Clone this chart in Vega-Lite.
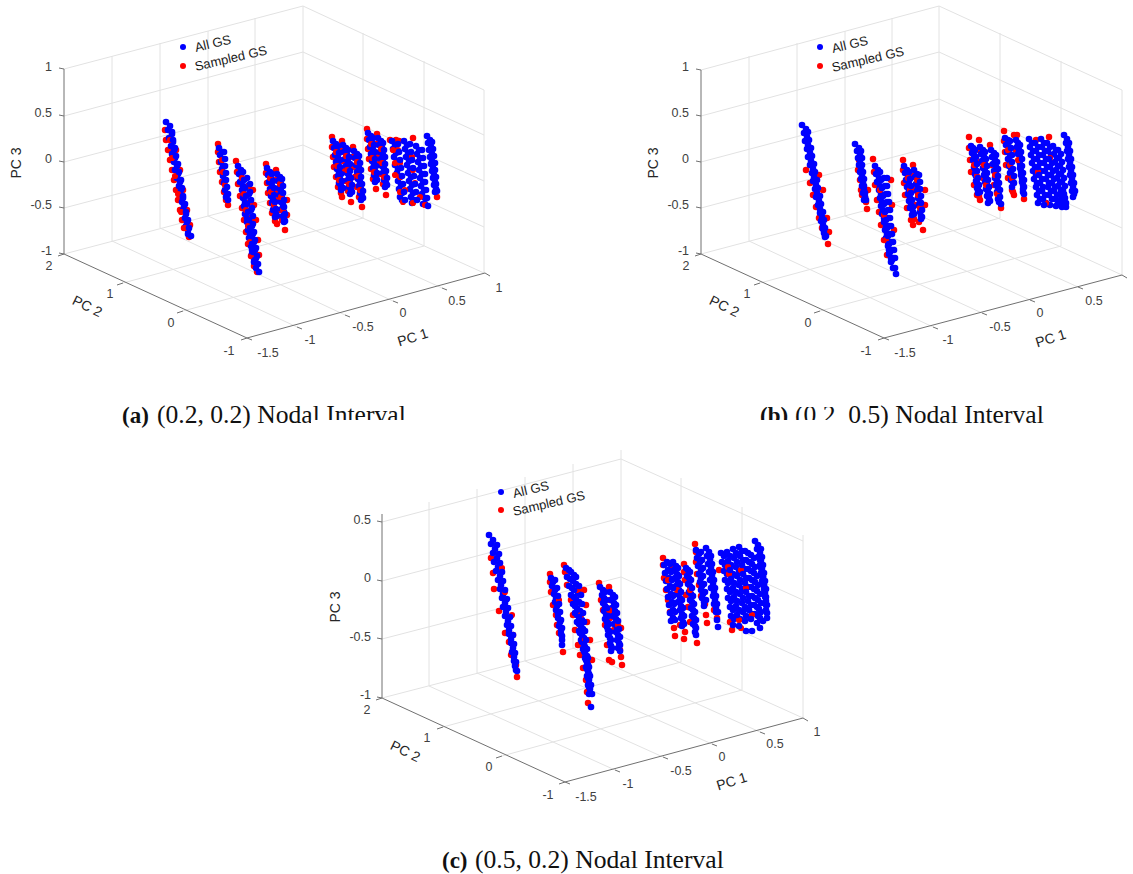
{"$schema":"https://vega.github.io/schema/vega-lite/v6.json","width":1133,"height":874,"padding":0,"autosize":"none","background":"white","config":{"view":{"stroke":null}},
"datasets":{
"grid":[
{"x":123,"y":283,"x2":363,"y2":218},{"x":183,"y":311,"x2":424,"y2":246},{"x":297,"y":327,"x2":112,"y2":241},{"x":345,"y":315,"x2":160,"y2":228},{"x":393,"y":301,"x2":208,"y2":216},{"x":442,"y":288,"x2":255,"y2":203},{"x":64,"y":254,"x2":303,"y2":191},{"x":303,"y":191,"x2":484,"y2":273},
{"x":112,"y":241,"x2":112,"y2":56},{"x":160,"y":228,"x2":160,"y2":43},{"x":208,"y":216,"x2":208,"y2":31},{"x":255,"y":203,"x2":255,"y2":18},{"x":303,"y":191,"x2":303,"y2":6},{"x":363,"y":218,"x2":363,"y2":33},{"x":424,"y":246,"x2":424,"y2":61},{"x":484,"y":273,"x2":484,"y2":90},
{"x":64,"y":208,"x2":303,"y2":145},{"x":303,"y":145,"x2":484,"y2":227},{"x":64,"y":162,"x2":303,"y2":99},{"x":303,"y":99,"x2":484,"y2":181},{"x":64,"y":116,"x2":303,"y2":52},{"x":303,"y":52,"x2":484,"y2":135},{"x":64,"y":69,"x2":303,"y2":6},{"x":303,"y":6,"x2":484,"y2":90},
{"x":760,"y":283,"x2":1000,"y2":218},{"x":820,"y":311,"x2":1061,"y2":246},{"x":933,"y":327,"x2":749,"y2":241},{"x":982,"y":313,"x2":797,"y2":228},{"x":1030,"y":300,"x2":845,"y2":216},{"x":1078,"y":287,"x2":892,"y2":203},{"x":701,"y":254,"x2":939,"y2":191},{"x":939,"y":191,"x2":1122,"y2":275},
{"x":749,"y":241,"x2":749,"y2":56},{"x":797,"y":228,"x2":797,"y2":43},{"x":845,"y":216,"x2":845,"y2":31},{"x":892,"y":203,"x2":892,"y2":18},{"x":939,"y":191,"x2":939,"y2":6},{"x":1000,"y":218,"x2":1000,"y2":33},{"x":1061,"y":246,"x2":1061,"y2":61},{"x":1122,"y":275,"x2":1122,"y2":90},
{"x":701,"y":208,"x2":939,"y2":145},{"x":939,"y":145,"x2":1122,"y2":228},{"x":701,"y":162,"x2":939,"y2":99},{"x":939,"y":99,"x2":1122,"y2":182},{"x":701,"y":116,"x2":939,"y2":52},{"x":939,"y":52,"x2":1122,"y2":136},{"x":701,"y":70,"x2":939,"y2":6},{"x":939,"y":6,"x2":1122,"y2":90},
{"x":443,"y":727,"x2":681,"y2":662},{"x":502,"y":756,"x2":742,"y2":690},{"x":615,"y":770,"x2":429,"y2":686},{"x":663,"y":757,"x2":477,"y2":673},{"x":712,"y":744,"x2":525,"y2":661},{"x":760,"y":732,"x2":573,"y2":648},{"x":382,"y":698,"x2":621,"y2":636},{"x":621,"y":636,"x2":803,"y2":718},
{"x":429,"y":686,"x2":429,"y2":502},{"x":477,"y":673,"x2":477,"y2":489},{"x":525,"y":661,"x2":525,"y2":477},{"x":573,"y":648,"x2":573,"y2":464},{"x":621,"y":636,"x2":621,"y2":450},{"x":681,"y":662,"x2":681,"y2":478},{"x":742,"y":690,"x2":742,"y2":507},{"x":803,"y":718,"x2":803,"y2":535},
{"x":382,"y":639,"x2":621,"y2":577},{"x":621,"y":577,"x2":803,"y2":659},{"x":382,"y":581,"x2":621,"y2":518},{"x":621,"y":518,"x2":803,"y2":600},{"x":382,"y":522,"x2":621,"y2":459},{"x":621,"y":459,"x2":803,"y2":541}],
"axes":[
{"x":64,"y":69,"x2":64,"y2":254},{"x":64,"y":254,"x2":247,"y2":338},{"x":247,"y":338,"x2":485,"y2":273},
{"x":64,"y":69,"x2":59,"y2":68},{"x":64,"y":116,"x2":59,"y2":115},{"x":64,"y":162,"x2":59,"y2":161},{"x":64,"y":208,"x2":59,"y2":207},{"x":64,"y":254,"x2":59,"y2":253},
{"x":64,"y":254,"x2":58,"y2":256},{"x":123,"y":283,"x2":117,"y2":285},{"x":183,"y":311,"x2":177,"y2":313},{"x":247,"y":338,"x2":241,"y2":340},
{"x":247,"y":338,"x2":252,"y2":340},{"x":297,"y":327,"x2":302,"y2":329},{"x":345,"y":315,"x2":350,"y2":317},{"x":393,"y":301,"x2":398,"y2":303},{"x":442,"y":288,"x2":447,"y2":290},{"x":485,"y":273,"x2":490,"y2":276},
{"x":701,"y":70,"x2":701,"y2":254},{"x":701,"y":254,"x2":884,"y2":338},{"x":884,"y":338,"x2":1122,"y2":275},
{"x":701,"y":70,"x2":696,"y2":69},{"x":701,"y":116,"x2":696,"y2":115},{"x":701,"y":162,"x2":696,"y2":161},{"x":701,"y":208,"x2":696,"y2":207},{"x":701,"y":254,"x2":696,"y2":253},
{"x":701,"y":254,"x2":695,"y2":256},{"x":760,"y":283,"x2":754,"y2":285},{"x":820,"y":311,"x2":814,"y2":313},{"x":884,"y":338,"x2":878,"y2":340},
{"x":884,"y":338,"x2":889,"y2":340},{"x":933,"y":327,"x2":938,"y2":329},{"x":982,"y":313,"x2":987,"y2":315},{"x":1030,"y":300,"x2":1035,"y2":302},{"x":1078,"y":287,"x2":1083,"y2":289},{"x":1122,"y":275,"x2":1127,"y2":278},
{"x":382,"y":514,"x2":382,"y2":698},{"x":382,"y":698,"x2":565,"y2":782},{"x":565,"y":782,"x2":803,"y2":718},
{"x":382,"y":522,"x2":377,"y2":521},{"x":382,"y":581,"x2":377,"y2":580},{"x":382,"y":639,"x2":377,"y2":638},{"x":382,"y":698,"x2":377,"y2":697},
{"x":382,"y":698,"x2":376,"y2":700},{"x":443,"y":727,"x2":437,"y2":729},{"x":502,"y":756,"x2":496,"y2":758},{"x":565,"y":782,"x2":559,"y2":784},
{"x":565,"y":782,"x2":570,"y2":784},{"x":615,"y":770,"x2":620,"y2":772},{"x":663,"y":757,"x2":668,"y2":759},{"x":712,"y":744,"x2":717,"y2":746},{"x":760,"y":732,"x2":765,"y2":734},{"x":803,"y":718,"x2":808,"y2":721}],
"red1":[
{"x":165,"y":130},{"x":166,"y":140},{"x":168,"y":150},{"x":170,"y":160},{"x":172,"y":170},{"x":174,"y":180},{"x":176,"y":190},{"x":178,"y":200},{"x":180,"y":210},{"x":182,"y":220},{"x":184,"y":228},{"x":189,"y":237},{"x":176,"y":150},{"x":180,"y":170},{"x":183,"y":190},{"x":187,"y":210},{"x":190,"y":225},
{"x":218,"y":144},{"x":218,"y":152},{"x":219,"y":162},{"x":220,"y":172},{"x":222,"y":182},{"x":224,"y":192},{"x":226,"y":200},{"x":228,"y":205},
{"x":236,"y":161},{"x":237,"y":172},{"x":238,"y":184},{"x":240,"y":196},{"x":242,"y":208},{"x":244,"y":220},{"x":246,"y":232},{"x":248,"y":244},{"x":251,"y":256},{"x":254,"y":266},{"x":257,"y":272},{"x":253,"y":190},{"x":254,"y":205},{"x":256,"y":220},{"x":258,"y":240},{"x":259,"y":255},
{"x":266,"y":164},{"x":266,"y":173},{"x":267,"y":183},{"x":268,"y":193},{"x":270,"y":203},{"x":272,"y":213},{"x":275,"y":221},{"x":277,"y":224},
{"x":276,"y":170},{"x":276,"y":180},{"x":277,"y":190},{"x":278,"y":200},{"x":280,"y":210},{"x":282,"y":220},{"x":285,"y":230},{"x":287,"y":215},{"x":287,"y":200},
{"x":332,"y":137},{"x":332,"y":147},{"x":333,"y":157},{"x":334,"y":167},{"x":336,"y":177},{"x":338,"y":187},{"x":342,"y":197},{"x":341,"y":193},
{"x":342,"y":141},{"x":342,"y":151},{"x":343,"y":161},{"x":344,"y":171},{"x":346,"y":181},{"x":348,"y":191},{"x":351,"y":202},
{"x":353,"y":147},{"x":353,"y":157},{"x":354,"y":167},{"x":355,"y":177},{"x":357,"y":187},{"x":359,"y":197},{"x":362,"y":207},
{"x":367,"y":129},{"x":367,"y":139},{"x":368,"y":149},{"x":369,"y":159},{"x":371,"y":169},{"x":373,"y":179},{"x":376,"y":189},
{"x":377,"y":134},{"x":377,"y":144},{"x":378,"y":154},{"x":379,"y":164},{"x":381,"y":174},{"x":383,"y":184},{"x":386,"y":195},
{"x":390,"y":140},{"x":396,"y":140},{"x":399,"y":141},{"x":413,"y":138},{"x":437,"y":197},
{"x":806,"y":170},{"x":810,"y":183},{"x":813,"y":195},{"x":816,"y":207},{"x":819,"y":218},{"x":822,"y":228},{"x":825,"y":236},{"x":828,"y":244},{"x":829,"y":232},{"x":827,"y":218},{"x":823,"y":190},{"x":819,"y":175},
{"x":859,"y":160},{"x":858,"y":170},{"x":860,"y":180},{"x":861,"y":190},{"x":865,"y":197},{"x":866,"y":202},{"x":867,"y":209},{"x":862,"y":195},{"x":868,"y":190},
{"x":873,"y":159},{"x":874,"y":172},{"x":875,"y":185},{"x":877,"y":200},{"x":879,"y":212},{"x":881,"y":225},{"x":884,"y":240},{"x":887,"y":255},{"x":891,"y":180},{"x":892,"y":205},{"x":894,"y":230},
{"x":903,"y":160},{"x":903,"y":170},{"x":904,"y":183},{"x":905,"y":195},{"x":907,"y":208},{"x":911,"y":220},{"x":913,"y":225},{"x":914,"y":219},
{"x":913,"y":165},{"x":913,"y":176},{"x":914,"y":190},{"x":916,"y":205},{"x":919,"y":222},{"x":923,"y":230},{"x":925,"y":205},{"x":925,"y":190},
{"x":969,"y":137},{"x":969,"y":148},{"x":970,"y":160},{"x":971,"y":172},{"x":974,"y":185},{"x":977,"y":195},{"x":980,"y":200},{"x":979,"y":196},
{"x":979,"y":140},{"x":979,"y":150},{"x":980,"y":162},{"x":983,"y":178},
{"x":990,"y":145},{"x":1001,"y":208},{"x":992,"y":165},{"x":994,"y":185},
{"x":1004,"y":131},{"x":1004,"y":141},{"x":1005,"y":152},{"x":1006,"y":165},{"x":1008,"y":178},{"x":1012,"y":190},{"x":1014,"y":195},{"x":1013,"y":192},
{"x":1014,"y":135},{"x":1017,"y":135},{"x":1024,"y":199},{"x":1016,"y":150},{"x":1036,"y":140},{"x":1049,"y":137},
{"x":491,"y":558},{"x":493,"y":573},{"x":494,"y":589},{"x":499,"y":611},{"x":505,"y":633},{"x":509,"y":642},{"x":511,"y":655},{"x":517,"y":677},{"x":513,"y":635},{"x":514,"y":653},{"x":516,"y":665},
{"x":550,"y":574},{"x":550,"y":582},{"x":551,"y":592},{"x":553,"y":605},{"x":556,"y":615},{"x":557,"y":625},{"x":559,"y":633},{"x":563,"y":652},
{"x":564,"y":565},{"x":565,"y":572},{"x":567,"y":585},{"x":571,"y":600},{"x":573,"y":615},{"x":575,"y":630},{"x":578,"y":645},{"x":580,"y":655},{"x":583,"y":668},{"x":586,"y":680},{"x":587,"y":692},{"x":588,"y":703},{"x":584,"y":590},{"x":586,"y":605},{"x":587,"y":622},{"x":590,"y":640},{"x":592,"y":660},
{"x":599,"y":583},{"x":601,"y":600},{"x":603,"y":610},{"x":605,"y":625},{"x":607,"y":645},{"x":612,"y":662},{"x":609,"y":660},{"x":610,"y":618},
{"x":609,"y":587},{"x":610,"y":600},{"x":612,"y":612},{"x":614,"y":630},{"x":620,"y":650},{"x":621,"y":657},{"x":622,"y":665},{"x":621,"y":628},
{"x":663,"y":558},{"x":663,"y":565},{"x":664,"y":578},{"x":666,"y":590},{"x":668,"y":600},{"x":670,"y":612},{"x":673,"y":618},{"x":674,"y":628},{"x":675,"y":636},
{"x":672,"y":568},{"x":684,"y":639},{"x":685,"y":632},{"x":680,"y":625},
{"x":684,"y":564},{"x":685,"y":580},{"x":686,"y":595},{"x":688,"y":607},{"x":690,"y":622},{"x":697,"y":643},{"x":684,"y":572},
{"x":695,"y":544},{"x":696,"y":552},{"x":696,"y":562},{"x":697,"y":574},{"x":699,"y":585},{"x":701,"y":596},{"x":706,"y":615},{"x":707,"y":623},{"x":705,"y":604},
{"x":714,"y":610},{"x":717,"y":618},{"x":719,"y":570},{"x":730,"y":622},{"x":732,"y":630}],
"blue1":[
{"x":166,"y":122},{"x":168,"y":130},{"x":169,"y":138},{"x":171,"y":146},{"x":172,"y":154},{"x":174,"y":162},{"x":175,"y":170},{"x":177,"y":178},{"x":179,"y":186},{"x":180,"y":194},{"x":182,"y":202},{"x":183,"y":210},{"x":185,"y":218},{"x":186,"y":226},{"x":188,"y":234},
{"x":219,"y":148},{"x":220,"y":155},{"x":221,"y":162},{"x":222,"y":169},{"x":223,"y":176},{"x":224,"y":183},{"x":225,"y":190},{"x":226,"y":197},
{"x":238,"y":166},{"x":239,"y":174},{"x":240,"y":182},{"x":242,"y":190},{"x":243,"y":198},{"x":244,"y":206},{"x":245,"y":214},{"x":247,"y":222},{"x":248,"y":230},{"x":249,"y":238},{"x":251,"y":246},{"x":252,"y":254},{"x":254,"y":262},{"x":256,"y":268},
{"x":267,"y":168},{"x":268,"y":175},{"x":269,"y":182},{"x":270,"y":189},{"x":271,"y":196},{"x":272,"y":203},{"x":273,"y":210},{"x":275,"y":217},
{"x":277,"y":174},{"x":278,"y":181},{"x":279,"y":188},{"x":280,"y":195},{"x":281,"y":202},{"x":282,"y":209},{"x":283,"y":216},{"x":284,"y":222},
{"x":333,"y":141},{"x":334,"y":148},{"x":335,"y":155},{"x":336,"y":162},{"x":337,"y":169},{"x":338,"y":176},{"x":339,"y":183},{"x":341,"y":190},
{"x":343,"y":145},{"x":344,"y":152},{"x":345,"y":159},{"x":346,"y":166},{"x":347,"y":173},{"x":348,"y":180},{"x":349,"y":187},{"x":350,"y":194},
{"x":354,"y":151},{"x":355,"y":158},{"x":356,"y":165},{"x":357,"y":172},{"x":358,"y":179},{"x":359,"y":186},{"x":360,"y":193},{"x":361,"y":200},
{"x":368,"y":133},{"x":369,"y":140},{"x":370,"y":147},{"x":371,"y":154},{"x":372,"y":161},{"x":373,"y":168},{"x":374,"y":175},{"x":375,"y":182},
{"x":378,"y":138},{"x":379,"y":145},{"x":380,"y":152},{"x":381,"y":159},{"x":382,"y":166},{"x":383,"y":173},{"x":384,"y":180},{"x":385,"y":187},
{"x":392,"y":141},{"x":393,"y":149},{"x":394,"y":157},{"x":395,"y":165},{"x":397,"y":173},{"x":398,"y":181},{"x":399,"y":189},{"x":400,"y":197},
{"x":404,"y":141},{"x":405,"y":149},{"x":406,"y":157},{"x":407,"y":165},{"x":408,"y":173},{"x":409,"y":181},{"x":410,"y":189},{"x":411,"y":197},{"x":412,"y":203},
{"x":416,"y":146},{"x":417,"y":154},{"x":418,"y":162},{"x":419,"y":170},{"x":420,"y":178},{"x":421,"y":186},{"x":422,"y":194},{"x":423,"y":204},
{"x":427,"y":136},{"x":428,"y":143},{"x":429,"y":150},{"x":430,"y":157},{"x":431,"y":164},{"x":432,"y":171},{"x":433,"y":178},{"x":434,"y":185},{"x":435,"y":192},
{"x":802,"y":125},{"x":804,"y":133},{"x":805,"y":141},{"x":807,"y":149},{"x":808,"y":157},{"x":810,"y":165},{"x":812,"y":173},{"x":813,"y":181},{"x":815,"y":189},{"x":816,"y":197},{"x":818,"y":205},{"x":820,"y":213},{"x":821,"y":221},{"x":823,"y":229},{"x":825,"y":237},
{"x":855,"y":144},{"x":857,"y":151},{"x":858,"y":158},{"x":859,"y":165},{"x":860,"y":172},{"x":861,"y":179},{"x":862,"y":186},{"x":863,"y":193},{"x":864,"y":200},
{"x":875,"y":166},{"x":876,"y":174},{"x":877,"y":182},{"x":879,"y":190},{"x":880,"y":198},{"x":881,"y":206},{"x":882,"y":214},{"x":884,"y":222},{"x":885,"y":230},{"x":886,"y":238},{"x":888,"y":246},{"x":889,"y":254},{"x":891,"y":262},{"x":893,"y":268},
{"x":904,"y":166},{"x":905,"y":173},{"x":906,"y":180},{"x":907,"y":187},{"x":908,"y":194},{"x":909,"y":201},{"x":910,"y":208},{"x":912,"y":215},
{"x":914,"y":170},{"x":915,"y":177},{"x":916,"y":184},{"x":917,"y":191},{"x":918,"y":198},{"x":919,"y":205},{"x":920,"y":212},{"x":921,"y":219},
{"x":971,"y":146},{"x":972,"y":153},{"x":973,"y":160},{"x":974,"y":167},{"x":975,"y":174},{"x":976,"y":181},{"x":977,"y":188},{"x":978,"y":193},
{"x":980,"y":147},{"x":981,"y":154},{"x":982,"y":161},{"x":983,"y":168},{"x":984,"y":175},{"x":985,"y":182},{"x":986,"y":189},{"x":987,"y":196},{"x":988,"y":203},
{"x":991,"y":150},{"x":992,"y":157},{"x":993,"y":164},{"x":994,"y":171},{"x":995,"y":178},{"x":996,"y":185},{"x":997,"y":192},{"x":998,"y":199},
{"x":1005,"y":138},{"x":1006,"y":145},{"x":1007,"y":152},{"x":1008,"y":159},{"x":1009,"y":166},{"x":1010,"y":173},{"x":1011,"y":180},{"x":1012,"y":187},
{"x":1016,"y":140},{"x":1017,"y":147},{"x":1018,"y":154},{"x":1019,"y":161},{"x":1020,"y":168},{"x":1021,"y":175},{"x":1022,"y":182},{"x":1023,"y":189},
{"x":1029,"y":139},{"x":1030,"y":147},{"x":1031,"y":155},{"x":1032,"y":163},{"x":1033,"y":171},{"x":1034,"y":179},{"x":1036,"y":187},{"x":1037,"y":195},{"x":1038,"y":203},
{"x":1041,"y":139},{"x":1042,"y":147},{"x":1043,"y":155},{"x":1044,"y":163},{"x":1045,"y":171},{"x":1046,"y":179},{"x":1048,"y":187},{"x":1049,"y":195},{"x":1050,"y":205},
{"x":1053,"y":146},{"x":1054,"y":154},{"x":1055,"y":162},{"x":1056,"y":170},{"x":1057,"y":178},{"x":1058,"y":186},{"x":1060,"y":194},{"x":1061,"y":200},{"x":1062,"y":207},
{"x":1064,"y":135},{"x":1066,"y":143},{"x":1067,"y":151},{"x":1068,"y":159},{"x":1069,"y":167},{"x":1070,"y":175},{"x":1071,"y":183},{"x":1072,"y":191},{"x":1073,"y":197},
{"x":489,"y":535},{"x":491,"y":544},{"x":493,"y":553},{"x":494,"y":562},{"x":496,"y":571},{"x":498,"y":580},{"x":500,"y":589},{"x":502,"y":598},{"x":503,"y":607},{"x":505,"y":616},{"x":507,"y":625},{"x":509,"y":634},{"x":511,"y":643},{"x":512,"y":652},{"x":514,"y":661},{"x":516,"y":670},
{"x":551,"y":578},{"x":552,"y":586},{"x":554,"y":594},{"x":555,"y":602},{"x":556,"y":610},{"x":558,"y":618},{"x":559,"y":626},{"x":561,"y":634},{"x":562,"y":645},
{"x":566,"y":568},{"x":567,"y":577},{"x":569,"y":586},{"x":571,"y":595},{"x":573,"y":604},{"x":575,"y":613},{"x":577,"y":622},{"x":579,"y":631},{"x":581,"y":640},{"x":583,"y":649},{"x":585,"y":658},{"x":586,"y":667},{"x":587,"y":676},{"x":588,"y":685},{"x":589,"y":694},{"x":591,"y":707},
{"x":600,"y":587},{"x":602,"y":595},{"x":603,"y":603},{"x":604,"y":611},{"x":605,"y":619},{"x":607,"y":627},{"x":608,"y":635},{"x":610,"y":643},{"x":611,"y":651},
{"x":610,"y":592},{"x":611,"y":600},{"x":612,"y":608},{"x":613,"y":616},{"x":614,"y":624},{"x":616,"y":632},{"x":617,"y":640},{"x":618,"y":648},{"x":620,"y":651},
{"x":664,"y":565},{"x":665,"y":573},{"x":666,"y":581},{"x":667,"y":589},{"x":668,"y":597},{"x":669,"y":605},{"x":670,"y":613},{"x":671,"y":621},
{"x":673,"y":562},{"x":674,"y":570},{"x":675,"y":578},{"x":676,"y":586},{"x":677,"y":594},{"x":678,"y":602},{"x":680,"y":610},{"x":681,"y":618},{"x":682,"y":626},
{"x":686,"y":568},{"x":687,"y":576},{"x":688,"y":584},{"x":689,"y":592},{"x":690,"y":600},{"x":691,"y":608},{"x":692,"y":616},{"x":693,"y":624},{"x":695,"y":632},
{"x":696,"y":550},{"x":697,"y":558},{"x":698,"y":566},{"x":699,"y":574},{"x":700,"y":582},{"x":701,"y":590},{"x":702,"y":598},{"x":704,"y":606},
{"x":706,"y":548},{"x":707,"y":556},{"x":708,"y":564},{"x":709,"y":572},{"x":710,"y":580},{"x":711,"y":588},{"x":713,"y":596},{"x":714,"y":604},{"x":716,"y":612},{"x":717,"y":620},
{"x":721,"y":553},{"x":722,"y":562},{"x":724,"y":571},{"x":725,"y":580},{"x":727,"y":589},{"x":728,"y":598},{"x":730,"y":607},{"x":731,"y":616},{"x":733,"y":625},
{"x":733,"y":549},{"x":734,"y":558},{"x":736,"y":567},{"x":737,"y":576},{"x":739,"y":585},{"x":740,"y":594},{"x":742,"y":603},{"x":743,"y":612},{"x":745,"y":621},{"x":746,"y":631},
{"x":745,"y":551},{"x":746,"y":560},{"x":748,"y":569},{"x":749,"y":578},{"x":751,"y":587},{"x":752,"y":596},{"x":754,"y":605},{"x":755,"y":614},{"x":757,"y":623},
{"x":755,"y":541},{"x":757,"y":549},{"x":758,"y":557},{"x":760,"y":565},{"x":761,"y":573},{"x":762,"y":581},{"x":764,"y":589},{"x":765,"y":597},{"x":766,"y":605},{"x":767,"y":613},{"x":767,"y":618}],
"blue3":[
{"x":170,"y":126},{"x":172,"y":134},{"x":173,"y":142},{"x":174,"y":150},{"x":175,"y":158},{"x":177,"y":166},{"x":178,"y":174},{"x":180,"y":182},{"x":181,"y":190},{"x":183,"y":198},{"x":184,"y":206},{"x":186,"y":214},{"x":187,"y":222},{"x":188,"y":230},
{"x":222,"y":152},{"x":223,"y":159},{"x":223,"y":166},{"x":224,"y":173},{"x":225,"y":180},{"x":226,"y":187},{"x":227,"y":194},
{"x":241,"y":170},{"x":242,"y":178},{"x":243,"y":186},{"x":244,"y":194},{"x":245,"y":202},{"x":246,"y":210},{"x":247,"y":218},{"x":249,"y":226},{"x":250,"y":234},{"x":251,"y":242},{"x":252,"y":250},{"x":254,"y":258},{"x":247,"y":178},{"x":248,"y":186},{"x":249,"y":194},{"x":250,"y":202},{"x":251,"y":210},{"x":251,"y":218},{"x":252,"y":226},{"x":253,"y":234},{"x":254,"y":242},{"x":255,"y":250},{"x":256,"y":258},
{"x":270,"y":172},{"x":271,"y":179},{"x":272,"y":186},{"x":272,"y":193},{"x":273,"y":200},{"x":274,"y":207},{"x":276,"y":214},{"x":280,"y":177},{"x":281,"y":184},{"x":281,"y":191},{"x":282,"y":198},{"x":283,"y":205},{"x":284,"y":212},{"x":284,"y":219},
{"x":336,"y":144},{"x":337,"y":151},{"x":338,"y":158},{"x":338,"y":165},{"x":339,"y":172},{"x":340,"y":179},{"x":341,"y":186},{"x":346,"y":148},{"x":347,"y":155},{"x":348,"y":162},{"x":348,"y":169},{"x":349,"y":176},{"x":350,"y":183},{"x":351,"y":190},{"x":357,"y":154},{"x":358,"y":161},{"x":359,"y":168},{"x":359,"y":175},{"x":360,"y":182},{"x":361,"y":189},{"x":362,"y":196},{"x":371,"y":136},{"x":372,"y":143},{"x":373,"y":150},{"x":373,"y":157},{"x":374,"y":164},{"x":375,"y":171},{"x":376,"y":178},{"x":381,"y":141},{"x":382,"y":148},{"x":383,"y":155},{"x":383,"y":162},{"x":384,"y":169},{"x":385,"y":176},{"x":386,"y":183},
{"x":395,"y":145},{"x":396,"y":153},{"x":397,"y":161},{"x":398,"y":169},{"x":400,"y":177},{"x":401,"y":185},{"x":402,"y":193},{"x":402,"y":200},{"x":407,"y":145},{"x":408,"y":153},{"x":409,"y":161},{"x":410,"y":169},{"x":411,"y":177},{"x":412,"y":185},{"x":413,"y":193},{"x":414,"y":200},{"x":419,"y":150},{"x":420,"y":158},{"x":421,"y":166},{"x":422,"y":174},{"x":423,"y":182},{"x":424,"y":190},{"x":425,"y":198},{"x":425,"y":204},
{"x":430,"y":140},{"x":431,"y":147},{"x":432,"y":154},{"x":432,"y":161},{"x":433,"y":168},{"x":434,"y":175},{"x":435,"y":182},{"x":436,"y":189},
{"x":806,"y":129},{"x":807,"y":137},{"x":808,"y":145},{"x":810,"y":153},{"x":811,"y":161},{"x":813,"y":169},{"x":814,"y":177},{"x":816,"y":185},{"x":817,"y":193},{"x":819,"y":201},{"x":820,"y":209},{"x":822,"y":217},{"x":823,"y":225},{"x":824,"y":233},
{"x":859,"y":148},{"x":860,"y":155},{"x":860,"y":162},{"x":861,"y":169},{"x":862,"y":176},{"x":863,"y":183},{"x":864,"y":190},{"x":865,"y":197},
{"x":878,"y":170},{"x":879,"y":178},{"x":880,"y":186},{"x":881,"y":194},{"x":882,"y":202},{"x":883,"y":210},{"x":884,"y":218},{"x":886,"y":226},{"x":887,"y":234},{"x":888,"y":242},{"x":889,"y":250},{"x":891,"y":258},{"x":884,"y":178},{"x":885,"y":186},{"x":886,"y":194},{"x":887,"y":202},{"x":888,"y":210},{"x":888,"y":218},{"x":889,"y":226},{"x":890,"y":234},{"x":891,"y":242},{"x":892,"y":250},{"x":893,"y":258},
{"x":907,"y":170},{"x":908,"y":177},{"x":909,"y":184},{"x":909,"y":191},{"x":910,"y":198},{"x":911,"y":205},{"x":913,"y":212},{"x":917,"y":174},{"x":918,"y":181},{"x":918,"y":188},{"x":919,"y":195},{"x":920,"y":202},{"x":921,"y":209},{"x":921,"y":216},
{"x":973,"y":148},{"x":974,"y":155},{"x":975,"y":162},{"x":975,"y":169},{"x":976,"y":176},{"x":977,"y":183},{"x":978,"y":190},{"x":983,"y":150},{"x":984,"y":157},{"x":985,"y":164},{"x":985,"y":171},{"x":986,"y":178},{"x":987,"y":185},{"x":988,"y":192},{"x":989,"y":199},{"x":994,"y":153},{"x":995,"y":160},{"x":996,"y":167},{"x":996,"y":174},{"x":997,"y":181},{"x":998,"y":188},{"x":999,"y":195},{"x":999,"y":202},{"x":1008,"y":140},{"x":1009,"y":147},{"x":1010,"y":154},{"x":1010,"y":161},{"x":1011,"y":168},{"x":1012,"y":175},{"x":1013,"y":182},{"x":1018,"y":143},{"x":1019,"y":150},{"x":1020,"y":157},{"x":1020,"y":164},{"x":1021,"y":171},{"x":1022,"y":178},{"x":1023,"y":185},{"x":1023,"y":192},
{"x":1032,"y":143},{"x":1033,"y":151},{"x":1034,"y":159},{"x":1035,"y":167},{"x":1036,"y":175},{"x":1037,"y":183},{"x":1039,"y":191},{"x":1040,"y":199},{"x":1038,"y":147},{"x":1039,"y":155},{"x":1040,"y":163},{"x":1041,"y":171},{"x":1042,"y":179},{"x":1043,"y":187},{"x":1045,"y":195},{"x":1046,"y":203},{"x":1044,"y":143},{"x":1045,"y":151},{"x":1046,"y":159},{"x":1047,"y":167},{"x":1048,"y":175},{"x":1049,"y":183},{"x":1051,"y":191},{"x":1052,"y":199},{"x":1050,"y":147},{"x":1051,"y":155},{"x":1052,"y":163},{"x":1053,"y":171},{"x":1054,"y":179},{"x":1055,"y":187},{"x":1057,"y":195},{"x":1058,"y":203},{"x":1056,"y":150},{"x":1057,"y":158},{"x":1058,"y":166},{"x":1059,"y":174},{"x":1060,"y":182},{"x":1061,"y":190},{"x":1062,"y":198},{"x":1063,"y":205},{"x":1061,"y":154},{"x":1062,"y":162},{"x":1063,"y":170},{"x":1064,"y":178},{"x":1065,"y":186},{"x":1064,"y":194},
{"x":1067,"y":139},{"x":1068,"y":147},{"x":1069,"y":155},{"x":1070,"y":163},{"x":1071,"y":171},{"x":1072,"y":179},{"x":1073,"y":187},{"x":1074,"y":194},
{"x":493,"y":540},{"x":495,"y":549},{"x":497,"y":558},{"x":498,"y":567},{"x":500,"y":576},{"x":501,"y":585},{"x":503,"y":594},{"x":505,"y":603},{"x":506,"y":612},{"x":508,"y":621},{"x":509,"y":630},{"x":511,"y":639},{"x":513,"y":648},{"x":514,"y":657},{"x":515,"y":666},
{"x":553,"y":582},{"x":555,"y":590},{"x":556,"y":598},{"x":557,"y":606},{"x":558,"y":614},{"x":560,"y":622},{"x":561,"y":630},{"x":562,"y":640},
{"x":569,"y":570},{"x":570,"y":579},{"x":572,"y":588},{"x":574,"y":597},{"x":575,"y":606},{"x":577,"y":615},{"x":579,"y":624},{"x":580,"y":633},{"x":582,"y":642},{"x":584,"y":651},{"x":586,"y":660},{"x":587,"y":669},{"x":588,"y":678},{"x":589,"y":687},{"x":574,"y":575},{"x":576,"y":584},{"x":578,"y":593},{"x":579,"y":602},{"x":580,"y":611},{"x":582,"y":620},{"x":583,"y":629},{"x":584,"y":638},{"x":585,"y":647},{"x":587,"y":656},{"x":588,"y":665},{"x":589,"y":674},
{"x":603,"y":590},{"x":604,"y":598},{"x":605,"y":606},{"x":606,"y":614},{"x":607,"y":622},{"x":608,"y":630},{"x":610,"y":638},{"x":611,"y":646},{"x":613,"y":595},{"x":614,"y":603},{"x":615,"y":611},{"x":616,"y":619},{"x":617,"y":627},{"x":618,"y":635},{"x":619,"y":643},
{"x":667,"y":562},{"x":668,"y":570},{"x":669,"y":578},{"x":670,"y":586},{"x":671,"y":594},{"x":672,"y":602},{"x":673,"y":610},{"x":673,"y":618},{"x":676,"y":566},{"x":677,"y":574},{"x":678,"y":582},{"x":679,"y":590},{"x":680,"y":598},{"x":681,"y":606},{"x":682,"y":614},{"x":683,"y":622},{"x":688,"y":570},{"x":689,"y":578},{"x":690,"y":586},{"x":691,"y":594},{"x":692,"y":602},{"x":693,"y":610},{"x":694,"y":618},{"x":695,"y":626},{"x":699,"y":554},{"x":700,"y":562},{"x":701,"y":570},{"x":701,"y":578},{"x":702,"y":586},{"x":703,"y":594},{"x":704,"y":602},{"x":709,"y":552},{"x":710,"y":560},{"x":711,"y":568},{"x":712,"y":576},{"x":713,"y":584},{"x":714,"y":592},{"x":715,"y":600},{"x":716,"y":608},
{"x":724,"y":556},{"x":725,"y":565},{"x":727,"y":574},{"x":728,"y":583},{"x":730,"y":592},{"x":731,"y":601},{"x":733,"y":610},{"x":734,"y":619},{"x":730,"y":556},{"x":731,"y":565},{"x":733,"y":574},{"x":734,"y":583},{"x":736,"y":592},{"x":737,"y":601},{"x":739,"y":610},{"x":740,"y":619},{"x":736,"y":553},{"x":737,"y":562},{"x":739,"y":571},{"x":740,"y":580},{"x":742,"y":589},{"x":743,"y":598},{"x":745,"y":607},{"x":746,"y":616},{"x":742,"y":551},{"x":743,"y":560},{"x":745,"y":569},{"x":746,"y":578},{"x":748,"y":587},{"x":749,"y":596},{"x":751,"y":605},{"x":752,"y":614},{"x":748,"y":553},{"x":749,"y":562},{"x":751,"y":571},{"x":752,"y":580},{"x":754,"y":589},{"x":755,"y":598},{"x":757,"y":607},{"x":758,"y":616},{"x":754,"y":558},{"x":755,"y":567},{"x":757,"y":576},{"x":758,"y":585},{"x":760,"y":594},{"x":761,"y":603},{"x":761,"y":612},{"x":763,"y":621},{"x":760,"y":560},{"x":761,"y":568},{"x":763,"y":577},{"x":764,"y":586},
{"x":758,"y":545},{"x":760,"y":553},{"x":761,"y":561},{"x":762,"y":569},{"x":763,"y":577},{"x":764,"y":585},{"x":765,"y":593},{"x":766,"y":601},{"x":766,"y":610}],
"red2":[
{"x":170,"y":140},{"x":172,"y":158},{"x":175,"y":176},{"x":178,"y":194},{"x":181,"y":212},{"x":185,"y":228},
{"x":222,"y":160},{"x":223,"y":172},{"x":225,"y":185},
{"x":242,"y":178},{"x":244,"y":194},{"x":246,"y":210},{"x":248,"y":226},{"x":250,"y":242},{"x":252,"y":256},{"x":249,"y":186},{"x":250,"y":202},{"x":252,"y":218},
{"x":270,"y":178},{"x":271,"y":192},{"x":274,"y":205},{"x":280,"y":184},{"x":281,"y":197},{"x":283,"y":210},
{"x":336,"y":152},{"x":337,"y":166},{"x":339,"y":180},{"x":346,"y":156},{"x":347,"y":170},{"x":349,"y":184},{"x":357,"y":162},{"x":358,"y":176},{"x":360,"y":190},{"x":371,"y":144},{"x":372,"y":158},{"x":374,"y":172},{"x":381,"y":149},{"x":382,"y":163},{"x":384,"y":177},
{"x":393,"y":150},{"x":398,"y":150},{"x":395,"y":163},{"x":400,"y":163},{"x":395,"y":175},{"x":400,"y":177},{"x":405,"y":190},{"x":400,"y":192},{"x":412,"y":157},{"x":413,"y":170},{"x":415,"y":183},{"x":420,"y":197},{"x":403,"y":202},{"x":413,"y":203},{"x":425,"y":205},
{"x":880,"y":190},{"x":884,"y":215},{"x":886,"y":240},{"x":908,"y":178},{"x":910,"y":190},{"x":917,"y":180},{"x":918,"y":195},{"x":920,"y":208},{"x":974,"y":165},{"x":977,"y":176},{"x":984,"y":165},{"x":986,"y":185},{"x":995,"y":175},{"x":997,"y":194},{"x":1008,"y":150},{"x":1010,"y":165},{"x":1012,"y":178},{"x":1018,"y":160},{"x":1037,"y":159},{"x":1050,"y":158},{"x":1038,"y":172},{"x":1046,"y":203},
{"x":502,"y":568},{"x":505,"y":592},{"x":512,"y":615},{"x":559,"y":600},{"x":578,"y":590},{"x":581,"y":615},{"x":585,"y":640},{"x":609,"y":610},{"x":618,"y":625},{"x":668,"y":580},{"x":677,"y":590},{"x":690,"y":590},{"x":702,"y":560},{"x":728,"y":567},{"x":729,"y":574},{"x":741,"y":570},{"x":746,"y":588},{"x":752,"y":615},{"x":739,"y":620},{"x":741,"y":628}],
"blue2":[
{"x":172,"y":132},{"x":173,"y":140},{"x":175,"y":148},{"x":176,"y":156},{"x":178,"y":164},{"x":179,"y":172},{"x":181,"y":180},{"x":182,"y":188},{"x":183,"y":196},{"x":185,"y":204},{"x":186,"y":212},{"x":188,"y":220},{"x":189,"y":228},{"x":191,"y":236},
{"x":224,"y":152},{"x":225,"y":159},{"x":225,"y":166},{"x":226,"y":173},{"x":226,"y":180},{"x":227,"y":187},{"x":228,"y":194},{"x":228,"y":200},
{"x":243,"y":172},{"x":244,"y":180},{"x":245,"y":188},{"x":246,"y":196},{"x":247,"y":204},{"x":248,"y":212},{"x":249,"y":220},{"x":250,"y":228},{"x":251,"y":236},{"x":252,"y":244},{"x":253,"y":252},{"x":255,"y":260},{"x":250,"y":184},{"x":250,"y":192},{"x":251,"y":200},{"x":252,"y":208},{"x":253,"y":216},{"x":253,"y":224},{"x":254,"y":232},{"x":255,"y":240},{"x":256,"y":248},{"x":257,"y":256},{"x":258,"y":264},{"x":259,"y":272},
{"x":272,"y":174},{"x":273,"y":181},{"x":274,"y":188},{"x":274,"y":195},{"x":275,"y":202},{"x":276,"y":209},{"x":277,"y":216},
{"x":282,"y":179},{"x":283,"y":186},{"x":283,"y":193},{"x":284,"y":200},{"x":284,"y":207},{"x":285,"y":214},{"x":285,"y":221},
{"x":338,"y":146},{"x":339,"y":153},{"x":340,"y":160},{"x":340,"y":167},{"x":341,"y":174},{"x":342,"y":181},{"x":343,"y":188},
{"x":348,"y":150},{"x":349,"y":157},{"x":350,"y":164},{"x":350,"y":171},{"x":351,"y":178},{"x":352,"y":185},{"x":352,"y":192},
{"x":359,"y":156},{"x":360,"y":163},{"x":361,"y":170},{"x":361,"y":177},{"x":362,"y":184},{"x":363,"y":191},{"x":363,"y":198},
{"x":373,"y":138},{"x":374,"y":145},{"x":375,"y":152},{"x":375,"y":159},{"x":376,"y":166},{"x":377,"y":173},{"x":377,"y":180},
{"x":383,"y":143},{"x":384,"y":150},{"x":385,"y":157},{"x":385,"y":164},{"x":386,"y":171},{"x":387,"y":178},{"x":387,"y":185},
{"x":398,"y":144},{"x":399,"y":152},{"x":400,"y":160},{"x":401,"y":168},{"x":402,"y":176},{"x":403,"y":184},{"x":404,"y":192},{"x":405,"y":200},
{"x":410,"y":144},{"x":411,"y":152},{"x":412,"y":160},{"x":413,"y":168},{"x":414,"y":176},{"x":415,"y":184},{"x":416,"y":192},{"x":417,"y":200},
{"x":422,"y":150},{"x":423,"y":158},{"x":424,"y":166},{"x":425,"y":174},{"x":425,"y":182},{"x":426,"y":190},{"x":427,"y":198},{"x":428,"y":206},
{"x":432,"y":142},{"x":433,"y":149},{"x":434,"y":156},{"x":435,"y":163},{"x":435,"y":170},{"x":436,"y":177},{"x":436,"y":184},{"x":437,"y":191},
{"x":808,"y":132},{"x":809,"y":140},{"x":811,"y":148},{"x":812,"y":156},{"x":814,"y":164},{"x":815,"y":172},{"x":817,"y":180},{"x":818,"y":188},{"x":820,"y":196},{"x":821,"y":204},{"x":823,"y":212},{"x":824,"y":220},{"x":825,"y":228},{"x":826,"y":236},
{"x":861,"y":151},{"x":862,"y":158},{"x":862,"y":165},{"x":863,"y":172},{"x":864,"y":179},{"x":864,"y":186},{"x":865,"y":193},{"x":866,"y":200},
{"x":880,"y":172},{"x":881,"y":180},{"x":882,"y":188},{"x":883,"y":196},{"x":884,"y":204},{"x":885,"y":212},{"x":886,"y":220},{"x":887,"y":228},{"x":888,"y":236},{"x":889,"y":244},{"x":890,"y":252},{"x":892,"y":260},{"x":887,"y":178},{"x":887,"y":186},{"x":888,"y":194},{"x":889,"y":202},{"x":890,"y":210},{"x":890,"y":218},{"x":891,"y":226},{"x":892,"y":234},{"x":893,"y":242},{"x":894,"y":250},{"x":895,"y":258},{"x":895,"y":268},{"x":896,"y":274},
{"x":909,"y":172},{"x":910,"y":179},{"x":911,"y":186},{"x":911,"y":193},{"x":912,"y":200},{"x":913,"y":207},{"x":914,"y":214},
{"x":919,"y":175},{"x":920,"y":182},{"x":920,"y":189},{"x":921,"y":196},{"x":921,"y":203},{"x":922,"y":210},{"x":922,"y":217},
{"x":975,"y":150},{"x":976,"y":157},{"x":977,"y":164},{"x":977,"y":171},{"x":978,"y":178},{"x":979,"y":185},{"x":980,"y":192},
{"x":985,"y":152},{"x":986,"y":159},{"x":987,"y":166},{"x":987,"y":173},{"x":988,"y":180},{"x":989,"y":187},{"x":990,"y":194},{"x":990,"y":201},
{"x":996,"y":155},{"x":997,"y":162},{"x":998,"y":169},{"x":998,"y":176},{"x":999,"y":183},{"x":1000,"y":190},{"x":1000,"y":197},{"x":1001,"y":204},
{"x":1010,"y":141},{"x":1011,"y":148},{"x":1012,"y":155},{"x":1012,"y":162},{"x":1013,"y":169},{"x":1014,"y":176},{"x":1014,"y":183},
{"x":1020,"y":145},{"x":1021,"y":152},{"x":1022,"y":159},{"x":1022,"y":166},{"x":1023,"y":173},{"x":1024,"y":180},{"x":1024,"y":187},{"x":1024,"y":194},
{"x":1035,"y":143},{"x":1036,"y":151},{"x":1037,"y":159},{"x":1038,"y":167},{"x":1039,"y":175},{"x":1040,"y":183},{"x":1042,"y":191},{"x":1043,"y":199},{"x":1044,"y":205},
{"x":1047,"y":143},{"x":1048,"y":151},{"x":1049,"y":159},{"x":1050,"y":167},{"x":1051,"y":175},{"x":1052,"y":183},{"x":1054,"y":191},{"x":1055,"y":199},{"x":1056,"y":206},
{"x":1058,"y":150},{"x":1059,"y":158},{"x":1060,"y":166},{"x":1061,"y":174},{"x":1062,"y":182},{"x":1063,"y":190},{"x":1065,"y":198},{"x":1066,"y":203},{"x":1066,"y":207},
{"x":1069,"y":143},{"x":1070,"y":151},{"x":1071,"y":159},{"x":1072,"y":167},{"x":1073,"y":175},{"x":1074,"y":183},{"x":1075,"y":191},
{"x":497,"y":545},{"x":499,"y":554},{"x":500,"y":563},{"x":502,"y":572},{"x":503,"y":581},{"x":505,"y":590},{"x":507,"y":599},{"x":508,"y":608},{"x":510,"y":617},{"x":511,"y":626},{"x":513,"y":635},{"x":514,"y":644},{"x":515,"y":653},{"x":516,"y":662},{"x":517,"y":671},
{"x":555,"y":580},{"x":557,"y":588},{"x":558,"y":596},{"x":559,"y":604},{"x":560,"y":612},{"x":561,"y":620},{"x":562,"y":628},{"x":562,"y":636},
{"x":571,"y":572},{"x":573,"y":581},{"x":574,"y":590},{"x":576,"y":599},{"x":577,"y":608},{"x":579,"y":617},{"x":581,"y":626},{"x":582,"y":635},{"x":584,"y":644},{"x":585,"y":653},{"x":587,"y":662},{"x":588,"y":671},{"x":589,"y":680},{"x":590,"y":689},
{"x":576,"y":577},{"x":579,"y":586},{"x":581,"y":595},{"x":582,"y":604},{"x":583,"y":613},{"x":584,"y":622},{"x":585,"y":631},{"x":586,"y":640},{"x":587,"y":649},{"x":588,"y":658},{"x":589,"y":667},{"x":590,"y":676},{"x":591,"y":685},{"x":592,"y":694},
{"x":605,"y":592},{"x":606,"y":600},{"x":607,"y":608},{"x":608,"y":616},{"x":609,"y":624},{"x":610,"y":632},{"x":611,"y":640},{"x":612,"y":648},
{"x":615,"y":597},{"x":616,"y":605},{"x":617,"y":613},{"x":618,"y":621},{"x":619,"y":629},{"x":620,"y":637},{"x":620,"y":645},
{"x":670,"y":564},{"x":671,"y":572},{"x":672,"y":580},{"x":673,"y":588},{"x":673,"y":596},{"x":674,"y":604},{"x":675,"y":612},{"x":675,"y":620},
{"x":678,"y":568},{"x":679,"y":576},{"x":680,"y":584},{"x":681,"y":592},{"x":682,"y":600},{"x":683,"y":608},{"x":684,"y":616},{"x":684,"y":624},
{"x":690,"y":572},{"x":691,"y":580},{"x":692,"y":588},{"x":693,"y":596},{"x":694,"y":604},{"x":695,"y":612},{"x":696,"y":620},{"x":696,"y":628},{"x":696,"y":635},
{"x":701,"y":552},{"x":702,"y":560},{"x":703,"y":568},{"x":703,"y":576},{"x":704,"y":584},{"x":705,"y":592},{"x":706,"y":600},
{"x":711,"y":556},{"x":712,"y":564},{"x":713,"y":572},{"x":714,"y":580},{"x":715,"y":588},{"x":716,"y":596},{"x":717,"y":604},{"x":718,"y":612},{"x":718,"y":627},
{"x":727,"y":552},{"x":728,"y":561},{"x":730,"y":570},{"x":731,"y":579},{"x":733,"y":588},{"x":734,"y":597},{"x":736,"y":606},{"x":737,"y":615},{"x":739,"y":626},
{"x":739,"y":547},{"x":740,"y":556},{"x":742,"y":565},{"x":743,"y":574},{"x":745,"y":583},{"x":746,"y":592},{"x":748,"y":601},{"x":749,"y":610},{"x":751,"y":619},{"x":752,"y":631},
{"x":751,"y":555},{"x":752,"y":564},{"x":754,"y":573},{"x":755,"y":582},{"x":757,"y":591},{"x":758,"y":600},{"x":759,"y":609},{"x":760,"y":618},{"x":760,"y":628},
{"x":761,"y":549},{"x":762,"y":557},{"x":763,"y":565},{"x":764,"y":573},{"x":765,"y":581},{"x":766,"y":589},{"x":766,"y":597},{"x":767,"y":605}],
"legendAll":[{"x":183,"y":47},{"x":820,"y":47},{"x":501,"y":492}],
"legendSampled":[{"x":183,"y":66},{"x":820,"y":66},{"x":501,"y":510}],
"zlabels":[
{"x":52,"y":67,"t":"1"},{"x":52,"y":113,"t":"0.5"},{"x":52,"y":159,"t":"0"},{"x":52,"y":205,"t":"-0.5"},{"x":52,"y":251,"t":"-1"},
{"x":689,"y":67,"t":"1"},{"x":689,"y":113,"t":"0.5"},{"x":689,"y":159,"t":"0"},{"x":689,"y":205,"t":"-0.5"},{"x":689,"y":251,"t":"-1"},
{"x":371,"y":520,"t":"0.5"},{"x":371,"y":578,"t":"0"},{"x":371,"y":637,"t":"-0.5"},{"x":371,"y":695,"t":"-1"}],
"tlabels":[
{"x":49,"y":266,"t":"2"},{"x":110,"y":294,"t":"1"},{"x":171,"y":323,"t":"0"},{"x":229,"y":351,"t":"-1"},{"x":268,"y":353,"t":"-1.5"},{"x":310,"y":340,"t":"-1"},{"x":363,"y":327,"t":"-0.5"},{"x":403,"y":313,"t":"0"},{"x":457,"y":301,"t":"0.5"},{"x":499,"y":288,"t":"1"},
{"x":686,"y":266,"t":"2"},{"x":747,"y":294,"t":"1"},{"x":808,"y":323,"t":"0"},{"x":866,"y":351,"t":"-1"},{"x":905,"y":353,"t":"-1.5"},{"x":948,"y":340,"t":"-1"},{"x":1000,"y":327,"t":"-0.5"},{"x":1040,"y":313,"t":"0"},{"x":1094,"y":301,"t":"0.5"},
{"x":367,"y":710,"t":"2"},{"x":427,"y":738,"t":"1"},{"x":489,"y":767,"t":"0"},{"x":548,"y":795,"t":"-1"},{"x":586,"y":797,"t":"-1.5"},{"x":628,"y":784,"t":"-1"},{"x":681,"y":771,"t":"-0.5"},{"x":722,"y":757,"t":"0"},{"x":775,"y":744,"t":"0.5"},{"x":817,"y":732,"t":"1"}],
"pc3":[{"x":17,"y":163,"t":"PC 3"},{"x":654,"y":163,"t":"PC 3"},{"x":336,"y":607,"t":"PC 3"}],
"pc2":[{"x":87,"y":307,"t":"PC 2"},{"x":724,"y":307,"t":"PC 2"},{"x":405,"y":752,"t":"PC 2"}],
"pc1":[{"x":413,"y":338,"t":"PC 1"},{"x":1051,"y":339,"t":"PC 1"},{"x":732,"y":782,"t":"PC 1"}],
"legendText":[{"x":195,"y":48,"t":"All GS"},{"x":195,"y":67,"t":"Sampled GS"},{"x":832,"y":49,"t":"All GS"},{"x":832,"y":68,"t":"Sampled GS"},{"x":513,"y":494,"t":"All GS"},{"x":513,"y":512,"t":"Sampled GS"}],
"capBold":[{"x":122,"y":423,"t":"(a)"},{"x":760,"y":423,"t":"(b)"},{"x":442,"y":868,"t":"(c)"}],
"capReg":[{"x":157,"y":423,"t":"(0.2, 0.2) Nodal Interval"},{"x":795,"y":423,"t":"(0.2, 0.5) Nodal Interval"},{"x":475,"y":868,"t":"(0.5, 0.2) Nodal Interval"}],
"masks":[{"x":311,"x2":412,"y":420,"y2":432},{"x":755,"x2":850,"y":395,"y2":407},{"x":755,"x2":847,"y":420,"y2":432}]
},
"encoding":{
"x":{"field":"x","type":"quantitative","axis":null,"scale":{"domain":[0,1133],"nice":false,"zero":false}},
"y":{"field":"y","type":"quantitative","axis":null,"scale":{"domain":[874,0],"nice":false,"zero":false}}},
"layer":[
{"data":{"name":"grid"},"mark":{"type":"rule","color":"#e2e2e2","strokeWidth":1},"encoding":{"x2":{"field":"x2"},"y2":{"field":"y2"}}},
{"data":{"name":"axes"},"mark":{"type":"rule","color":"#707070","strokeWidth":1},"encoding":{"x2":{"field":"x2"},"y2":{"field":"y2"}}},
{"data":{"name":"red1"},"mark":{"type":"circle","size":42,"opacity":1,"color":"#ff0000"}},
{"data":{"name":"blue1"},"mark":{"type":"circle","size":44,"opacity":1,"color":"#0000ff"}},
{"data":{"name":"blue3"},"mark":{"type":"circle","size":44,"opacity":1,"color":"#0000ff"}},
{"data":{"name":"red2"},"mark":{"type":"circle","size":38,"opacity":1,"color":"#ff0000"}},
{"data":{"name":"blue2"},"mark":{"type":"circle","size":44,"opacity":1,"color":"#0000ff"}},
{"data":{"name":"legendAll"},"mark":{"type":"circle","size":36,"opacity":1,"color":"#0000ff"}},
{"data":{"name":"legendSampled"},"mark":{"type":"circle","size":36,"opacity":1,"color":"#ff0000"}},
{"data":{"name":"zlabels"},"mark":{"type":"text","font":"Liberation Sans","fontSize":12.5,"color":"#404040","align":"right","baseline":"middle"},"encoding":{"text":{"field":"t"}}},
{"data":{"name":"tlabels"},"mark":{"type":"text","font":"Liberation Sans","fontSize":12.5,"color":"#404040","align":"center","baseline":"middle"},"encoding":{"text":{"field":"t"}}},
{"data":{"name":"pc3"},"mark":{"type":"text","font":"Liberation Sans","fontSize":14,"color":"#262626","align":"center","baseline":"middle","angle":270},"encoding":{"text":{"field":"t"}}},
{"data":{"name":"pc2"},"mark":{"type":"text","font":"Liberation Sans","fontSize":14,"color":"#262626","align":"center","baseline":"middle","angle":26},"encoding":{"text":{"field":"t"}}},
{"data":{"name":"pc1"},"mark":{"type":"text","font":"Liberation Sans","fontSize":14,"color":"#262626","align":"center","baseline":"middle","angle":343},"encoding":{"text":{"field":"t"}}},
{"data":{"name":"legendText"},"mark":{"type":"text","font":"Liberation Sans","fontSize":13,"color":"#1a1a1a","align":"left","baseline":"middle","angle":347},"encoding":{"text":{"field":"t"}}},
{"data":{"name":"capBold"},"mark":{"type":"text","font":"Liberation Serif","fontSize":23,"fontWeight":"bold","color":"#111111","align":"left","baseline":"alphabetic"},"encoding":{"text":{"field":"t"}}},
{"data":{"name":"capReg"},"mark":{"type":"text","font":"Liberation Serif","fontSize":25.6,"color":"#111111","align":"left","baseline":"alphabetic"},"encoding":{"text":{"field":"t"}}},
{"data":{"name":"masks"},"mark":{"type":"rect","color":"#ffffff"},"encoding":{"x2":{"field":"x2"},"y2":{"field":"y2"}}}
]}
